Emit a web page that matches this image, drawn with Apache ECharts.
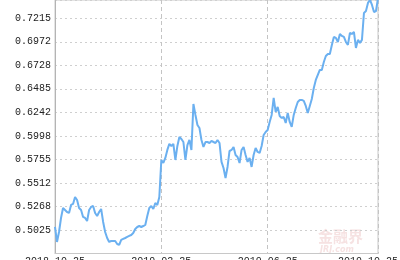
<!DOCTYPE html>
<html>
<head>
<meta charset="utf-8">
<script src="https://cdn.jsdelivr.net/npm/echarts@6/dist/echarts.min.js"></script>
<style>html,body{margin:0;padding:0;background:#fff}#c{width:400px;height:260px}</style>
</head>
<body>
<div id="c"></div>
<script>
// Tick labels on the date axis and the point index where each one sits
const dateLabels = ['2018-10-25', '2019-02-25', '2019-06-25', '2019-10-25'];
const dateLabelIdx = [0, 53, 106, 161];

// Net value series
const navValues = [
  0.5056, 0.4901, 0.5004, 0.5149, 0.5253, 0.5232, 0.5211, 0.5201, 0.5284, 0.5294,
  0.5366, 0.5335, 0.5253, 0.5232, 0.5160, 0.5149, 0.5118, 0.5232, 0.5263, 0.5273,
  0.5201, 0.5170, 0.5211, 0.5242, 0.5108, 0.5004, 0.4942, 0.4901, 0.4911, 0.4911,
  0.4911, 0.4880, 0.4870, 0.4922, 0.4932, 0.4942, 0.4953, 0.4963, 0.4973, 0.4994,
  0.5035, 0.5056, 0.5066, 0.5056, 0.5066, 0.5077, 0.5170, 0.5253, 0.5273, 0.5242,
  0.5304, 0.5284, 0.5366, 0.5749, 0.5718, 0.5770, 0.5853, 0.5915, 0.5894, 0.5915,
  0.5749, 0.5894, 0.5987, 0.5966, 0.5935, 0.5749, 0.5904, 0.5956, 0.5853, 0.6329,
  0.6215, 0.6111, 0.6080, 0.5956, 0.5884, 0.5935, 0.5935, 0.5925, 0.5946, 0.5935,
  0.5925, 0.5956, 0.5925, 0.5729, 0.5666, 0.5563, 0.5677, 0.5842, 0.5853, 0.5884,
  0.5801, 0.5780, 0.5718, 0.5853, 0.5884, 0.5801, 0.5729, 0.5770, 0.5677, 0.5801,
  0.5873, 0.5832, 0.5822, 0.5894, 0.6008, 0.6039, 0.6060, 0.6142, 0.6215, 0.6391,
  0.6246, 0.6298, 0.6204, 0.6184, 0.6194, 0.6132, 0.6236, 0.6142, 0.6091, 0.6215,
  0.6287, 0.6349, 0.6370, 0.6370, 0.6360, 0.6308, 0.6236, 0.6308, 0.6380, 0.6494,
  0.6577, 0.6629, 0.6680, 0.6680, 0.6763, 0.6825, 0.6846, 0.6846, 0.6939, 0.7022,
  0.7012, 0.6970, 0.7053, 0.7032, 0.7022, 0.6970, 0.6939, 0.7063, 0.7053, 0.7073,
  0.6908, 0.6991, 0.6960, 0.6991, 0.7270, 0.7290, 0.7374, 0.7405, 0.7353, 0.7280,
  0.7290, 0.7425
];

// Value-axis ticks (first visible label 0.5025, last 0.7215)
const yTickStep = 0.0243333;
const yFirstLabel = 0.5025;
const yLastLabel = 0.7215;
const yMin = yFirstLabel - yTickStep;
const yMax = 0.7404;

const categories = navValues.map((_, i) => i);
const isTick = (i) => dateLabelIdx.indexOf(i) !== -1;

const chart = echarts.init(document.getElementById('c'), null, {renderer: 'canvas'});
const font = '"Liberation Mono", "DejaVu Sans Mono", monospace';
chart.setOption({
  animation: false,
  backgroundColor: '#fff',
  grid: {left: 55, right: 22, top: 0, bottom: 6.5, outerBoundsMode: 'none', containLabel: false,
         show: true, borderColor: '#c8c8c8', borderWidth: 1, backgroundColor: 'transparent'},
  xAxis: {
    type: 'category',
    boundaryGap: false,
    data: categories,
    axisLine: {show: true, lineStyle: {color: '#c8c8c8'}},
    axisTick: {show: false},
    splitLine: {show: true, interval: (i) => isTick(i), lineStyle: {color: '#c4c4c4', type: [4, 3]}},
    axisLabel: {
      interval: (i) => isTick(i),
      margin: 3,
      color: '#222',
      fontFamily: font,
      fontSize: 10,
      hideOverlap: false,
      formatter: (v, i) => {
        const k = dateLabelIdx.indexOf(Number(v));
        if (k === -1) return '';
        return k === dateLabels.length - 1 ? '{r|' + dateLabels[k] + '}' : dateLabels[k];
      },
      rich: {r: {padding: [0, 20, 0, 0], fontFamily: font, fontSize: 10, color: '#222'}}
    }
  },
  yAxis: {
    type: 'value',
    min: yMin,
    max: yMax,
    interval: yTickStep,
    axisLine: {show: true, lineStyle: {color: '#b4b4b4'}},
    axisTick: {show: false},
    splitLine: {show: true, lineStyle: {color: '#cfcfcf', type: [2, 3]}},
    axisLabel: {
      margin: 4,
      color: '#222',
      fontFamily: font,
      fontSize: 10,
      hideOverlap: false,
      formatter: (v) => (v < yFirstLabel - 0.001 || v > yLastLabel + 0.001) ? '' : v.toFixed(4)
    }
  },
  graphic: [
    {type: 'text', left: 318, top: 229, z: 0, style: {text: '金融界', fill: '#f6e2e2', font: 'bold 15px "Noto Sans CJK SC"'}},
    {type: 'text', left: 320, top: 246, z: 0, style: {text: 'JRJ.com', fill: '#f6e2e2', font: 'italic bold 8px "DejaVu Sans"'}}
  ],
  series: [{
    type: 'line',
    data: navValues,
    showSymbol: false,
    smooth: false,
    lineStyle: {color: '#6bb0f0', width: 2},
    itemStyle: {color: '#6bb0f0'}
  }]
});
</script>
</body>
</html>
